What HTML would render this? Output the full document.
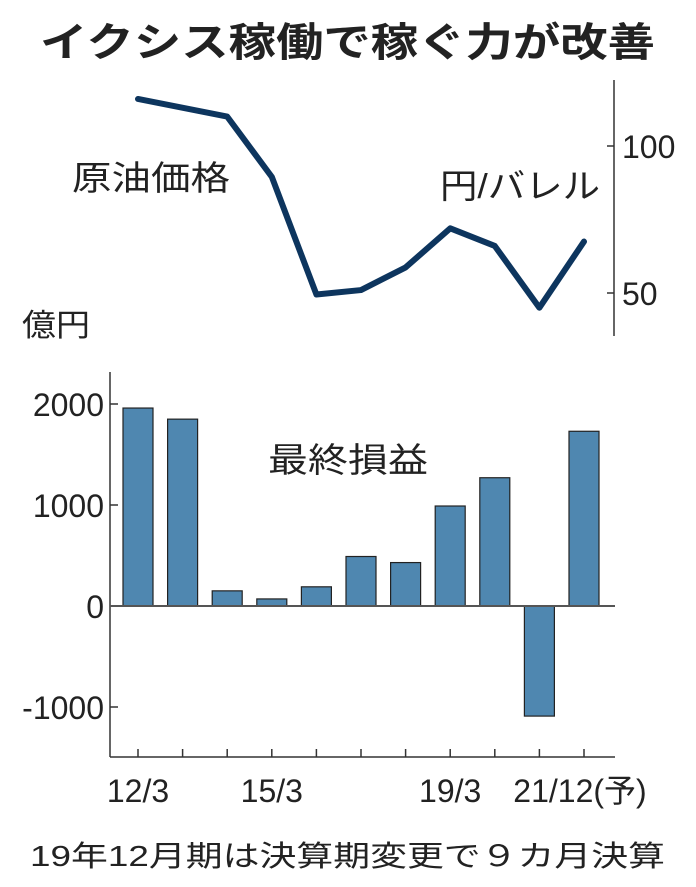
<!DOCTYPE html>
<html><head><meta charset="utf-8"><style>
body{margin:0;background:#fff;}
svg text{font-family:"Liberation Sans","Noto Sans CJK JP",sans-serif;fill:#222;}
</style></head><body>
<svg width="696" height="882" viewBox="0 0 696 882">
<text x="40" y="56" font-size="40" font-weight="bold" textLength="615" lengthAdjust="spacingAndGlyphs">イクシス稼働で稼ぐ力が改善</text>
<text x="72" y="190" font-size="34" textLength="158" lengthAdjust="spacingAndGlyphs">原油価格</text>
<text x="440" y="198" font-size="34" textLength="160" lengthAdjust="spacingAndGlyphs">円/バレル</text>
<text x="22" y="336" font-size="31" textLength="68" lengthAdjust="spacingAndGlyphs">億円</text>
<text x="268" y="472" font-size="34" textLength="160" lengthAdjust="spacingAndGlyphs">最終損益</text>
<text x="30" y="866" font-size="29" textLength="635" lengthAdjust="spacingAndGlyphs">19年12月期は決算期変更で９カ月決算</text>
<g id="topg"></g><g id="botg"></g>
</svg>
<script>
const categories=["12/3","13/3","14/3","15/3","16/3","17/3","18/3","19/3","19/12","20/12","21/12(予)"];
const oilValues=[116,null,110,89.5,49.5,51,58.7,72,66,45,67.5];
const profitValues=[1960,1850,150,70,190,490,430,990,1270,-1090,1730];
const oilTicks=[100,50];
const profitTicks=[2000,1000,0,-1000];
const xLabels=["12/3","15/3","19/3","21/12(予)"];
const NS="http://www.w3.org/2000/svg";
function mk(t,a,p){const e=document.createElementNS(NS,t);for(const k in a)e.setAttribute(k,a[k]);p.appendChild(e);return e;}
const xs=i=>138+i*44.6;
const yo=v=>146-(v-100)*2.94;
const yp=v=>606-v*0.101;
const gTop=document.getElementById('topg'),gBot=document.getElementById('botg');
let ax=mk('line',{x1:614,y1:80,x2:614,y2:336,stroke:'#333','stroke-width':1.5},gTop);


oilTicks.forEach(v=>{
 let t=mk('line',{x1:607,y1:yo(v),x2:614,y2:yo(v),stroke:'#333','stroke-width':1.5},gTop);
 
 
 let l=mk('text',{x:622,y:yo(v)+12,'font-size':32},gTop);l.textContent=v;
 
 
});
let pts=[];oilValues.forEach((v,i)=>{if(v!==null)pts.push(xs(i)+','+yo(v));});
let pl=mk('polyline',{points:pts.join(' '),fill:'none',stroke:'#0d355e','stroke-width':6,'stroke-linejoin':'round','stroke-linecap':'round'},gTop);


let ya=mk('line',{x1:110,y1:372,x2:110,y2:757,stroke:'#333','stroke-width':1.5},gBot);


let xa=mk('line',{x1:110,y1:757,x2:615,y2:757,stroke:'#333','stroke-width':1.5},gBot);


profitTicks.forEach(v=>{
 let t=mk('line',{x1:110,y1:yp(v),x2:118,y2:yp(v),stroke:'#333','stroke-width':1.5},gBot);
 
 
 let l=mk('text',{x:104,y:yp(v)+12,'font-size':32,'text-anchor':'end'},gBot);l.textContent=v;
 
 
});
profitValues.forEach((v,i)=>{
 let y0=yp(Math.max(v,0)),h=Math.abs(yp(v)-yp(0));
 let r=mk('rect',{x:xs(i)-15,y:y0,width:30,height:h,fill:'#4f87b0',stroke:'#222','stroke-width':1.2},gBot);
 
 
 let t=mk('line',{x1:xs(i),y1:749,x2:xs(i),y2:757,stroke:'#333','stroke-width':1.5},gBot);
 
 
});
let zl=mk('line',{x1:110,y1:yp(0),x2:615,y2:yp(0),stroke:'#555','stroke-width':2},gBot);


xLabels.forEach(s=>{
 const i=categories.indexOf(s);
 let l=mk('text',{x:xs(i),y:802,'font-size':32,'text-anchor':'middle'},gBot);l.textContent=s;
 if(i===categories.length-1){l.setAttribute('x',xs(i)-4);}
 
 
});
</script>
</body></html>
